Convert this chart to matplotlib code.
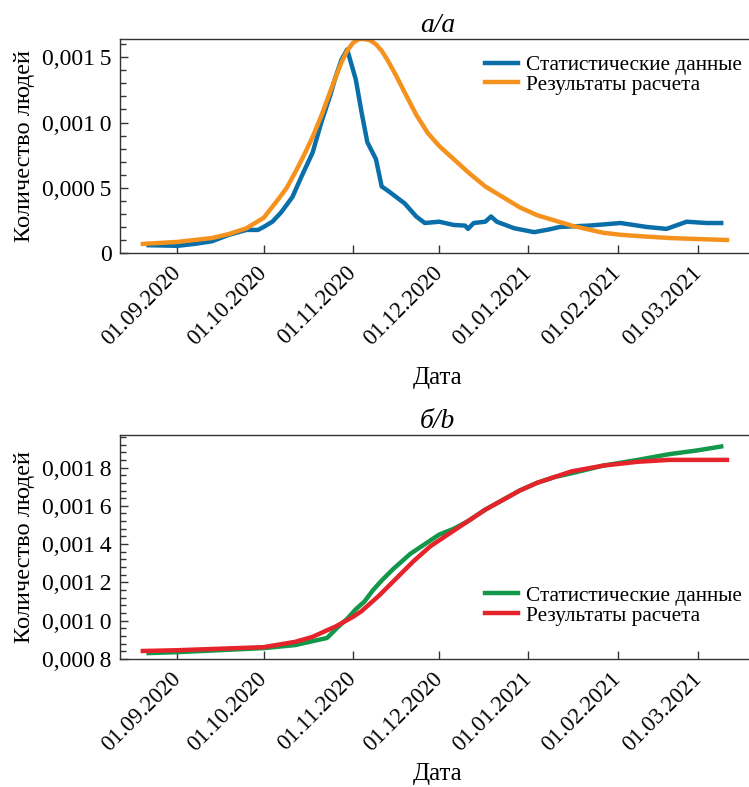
import matplotlib
matplotlib.use("Agg")
import matplotlib.pyplot as plt
import matplotlib.dates as mdates
from matplotlib.ticker import MultipleLocator, FuncFormatter
import pandas as pd

plt.rcParams["font.family"] = ["Liberation Serif", "DejaVu Serif"]
plt.rcParams["font.size"] = 16.5

# panel a: daily cases (statistics)
stat_a_dates = ["2020-08-22", "2020-09-01", "2020-09-07", "2020-09-13", "2020-09-19",
                "2020-09-25", "2020-09-29", "2020-10-01", "2020-10-04", "2020-10-07",
                "2020-10-11", "2020-10-14", "2020-10-18", "2020-10-21", "2020-10-24",
                "2020-10-26", "2020-10-28", "2020-10-30", "2020-11-02", "2020-11-04",
                "2020-11-06", "2020-11-09", "2020-11-11", "2020-11-13", "2020-11-16",
                "2020-11-19", "2020-11-23", "2020-11-26", "2020-12-01", "2020-12-06",
                "2020-12-10", "2020-12-11", "2020-12-13", "2020-12-17", "2020-12-19",
                "2020-12-21", "2020-12-27", "2021-01-03", "2021-01-08", "2021-01-12",
                "2021-01-22", "2021-02-02", "2021-02-11", "2021-02-18", "2021-02-25",
                "2021-03-04", "2021-03-09"]
stat_a_vals = [0.00006, 0.000055, 0.00007, 0.00009, 0.00014,
               0.000177, 0.000177, 0.0002, 0.00024, 0.00031,
               0.00043, 0.00058, 0.00077, 0.001, 0.0012,
               0.00135, 0.00148, 0.00156, 0.00133, 0.00108,
               0.00085, 0.00072, 0.00051, 0.00048, 0.00043,
               0.00038, 0.00028, 0.00023, 0.00024, 0.000215,
               0.00021, 0.000185, 0.00023, 0.00024, 0.00028,
               0.00024, 0.00019, 0.00016, 0.00018, 0.0002,
               0.00021, 0.00023, 0.0002, 0.000185, 0.00024,
               0.00023, 0.00023]

# panel a: model
model_a_dates = ["2020-08-20", "2020-09-01", "2020-09-07", "2020-09-13", "2020-09-19",
                 "2020-09-25", "2020-10-01", "2020-10-06", "2020-10-09", "2020-10-12",
                 "2020-10-15", "2020-10-18", "2020-10-21", "2020-10-23", "2020-10-25",
                 "2020-10-28", "2020-10-30", "2020-11-01", "2020-11-03", "2020-11-05",
                 "2020-11-07", "2020-11-09", "2020-11-11", "2020-11-13", "2020-11-16",
                 "2020-11-19", "2020-11-23", "2020-11-27", "2020-12-01", "2020-12-06",
                 "2020-12-11", "2020-12-17", "2020-12-23", "2020-12-29", "2021-01-04",
                 "2021-01-10", "2021-01-16", "2021-01-22", "2021-01-27", "2021-02-02",
                 "2021-02-08", "2021-02-19", "2021-03-01", "2021-03-11"]
model_a_vals = [0.00007, 0.000085, 0.0001, 0.000115, 0.000146,
                0.00019, 0.00027, 0.00041, 0.0005, 0.00062,
                0.00075, 0.00089, 0.00105, 0.00117, 0.00129,
                0.00146, 0.00155, 0.00161, 0.00164, 0.00164,
                0.00163, 0.0016, 0.00155, 0.00148, 0.00136,
                0.00123, 0.00106, 0.00092, 0.00082, 0.00072,
                0.00062, 0.00051, 0.00043, 0.00035, 0.00029,
                0.00025, 0.00021, 0.00018, 0.000155, 0.00014,
                0.00013, 0.000115, 0.000107, 0.0001]

# panel b: cumulative (statistics)
stat_b_dates = ["2020-08-22", "2020-09-01", "2020-10-01", "2020-10-12", "2020-10-17",
                "2020-10-23", "2020-10-27", "2020-10-30", "2020-11-02", "2020-11-05",
                "2020-11-08", "2020-11-11", "2020-11-15", "2020-11-18", "2020-11-21",
                "2020-11-25", "2020-12-01", "2020-12-06", "2020-12-11", "2020-12-17",
                "2020-12-23", "2020-12-29", "2021-01-04", "2021-01-10", "2021-01-16",
                "2021-01-27", "2021-02-08", "2021-02-19", "2021-03-01", "2021-03-09"]
stat_b_vals = [0.000831, 0.000836, 0.000857, 0.000873, 0.00089,
               0.00091, 0.00097, 0.00101, 0.00106, 0.0011,
               0.00116, 0.00121, 0.00127, 0.00131, 0.00135,
               0.00139, 0.00145, 0.00148, 0.00152, 0.00158,
               0.00163, 0.00168, 0.00172, 0.00175, 0.00177,
               0.00181, 0.00184, 0.00187, 0.00189, 0.00191]

# panel b: model
model_b_dates = ["2020-08-20", "2020-09-01", "2020-10-01", "2020-10-12", "2020-10-18",
                 "2020-10-23", "2020-10-26", "2020-10-29", "2020-11-01", "2020-11-04",
                 "2020-11-07", "2020-11-10", "2020-11-13", "2020-11-16", "2020-11-19",
                 "2020-11-22", "2020-11-25", "2020-11-28", "2020-12-01", "2020-12-06",
                 "2020-12-11", "2020-12-17", "2020-12-23", "2020-12-29", "2021-01-04",
                 "2021-01-10", "2021-01-16", "2021-01-27", "2021-02-08", "2021-02-19",
                 "2021-03-11"]
model_b_vals = [0.000842, 0.000846, 0.000862, 0.00089, 0.000916,
                0.00095, 0.00097, 0.000995, 0.00102, 0.00105,
                0.00109, 0.00113, 0.001175, 0.00122, 0.001265,
                0.00131, 0.00135, 0.00139, 0.00142, 0.00147,
                0.00152, 0.00158, 0.00163, 0.00168, 0.00172,
                0.00175, 0.00178, 0.00181, 0.00183, 0.00184,
                0.00184]

labels = ["Статистические данные", "Результаты расчета"]


def fmt(v, pos):
    if abs(v) < 1e-9:
        return "0"
    s = f"{v:.4f}".replace(".", ",")
    return s[:-1] + "\u2009" + s[-1]


fig = plt.figure(figsize=(7.49, 7.87), dpi=100)
ax1 = fig.add_axes([0.160, 0.6785, 0.849, 0.2719])
ax2 = fig.add_axes([0.160, 0.1626, 0.849, 0.2847])

ax1.plot(pd.to_datetime(stat_a_dates), stat_a_vals, color="#0a6fa8", lw=3.2, label=labels[0])
ax1.plot(pd.to_datetime(model_a_dates), model_a_vals, color="#f5921e", lw=3.2, label=labels[1])
ax2.plot(pd.to_datetime(stat_b_dates), stat_b_vals, color="#13974a", lw=3.2, label=labels[0])
ax2.plot(pd.to_datetime(model_b_dates), model_b_vals, color="#e4232b", lw=3.2, label=labels[1])

ax1.set_ylim(0, 0.00164)
ax1.yaxis.set_major_locator(MultipleLocator(0.0005))
ax1.yaxis.set_minor_locator(MultipleLocator(0.0001))
ax2.set_ylim(0.0008, 0.00197)
ax2.yaxis.set_major_locator(MultipleLocator(0.0002))
ax2.yaxis.set_minor_locator(MultipleLocator(0.00004))

for ax, title, leg_y, xl_y in [(ax1, "а/a", 0.925, -0.584), (ax2, "б/b", 0.327, -0.515)]:
    ax.set_xlim(pd.Timestamp("2020-08-12"), pd.Timestamp("2021-03-21"))
    ax.xaxis.set_major_locator(mdates.MonthLocator(bymonth=[9, 10, 11, 12, 1, 2, 3]))
    ax.xaxis.set_major_formatter(mdates.DateFormatter("%d.%m.%Y"))
    ax.yaxis.set_major_formatter(FuncFormatter(fmt))
    ax.spines["right"].set_visible(False)
    for sp in ["left", "top", "bottom"]:
        ax.spines[sp].set_color("#333333")
        ax.spines[sp].set_linewidth(1.0)
    ax.tick_params(which="major", direction="in", length=6, width=1.0, color="#333333", pad=6)
    ax.tick_params(which="minor", direction="in", length=4, width=1.0, color="#333333")
    ax.tick_params(axis="y", labelsize=17)
    ax.tick_params(axis="x", which="minor", length=0)
    ax.tick_params(axis="x", pad=12)
    plt.setp(ax.get_xticklabels(), rotation=45, ha="right", va="center",
             rotation_mode="anchor")
    ax.set_title(title, fontstyle="italic", pad=5)
    ax.set_ylabel("Количество людей", fontsize=17.6, labelpad=5)
    ax.set_xlabel("Дата", fontsize=18, va="center")
    ax.xaxis.set_label_coords(0.5, xl_y)
    ax.legend(loc="upper left", bbox_to_anchor=(0.574, leg_y), frameon=False,
              fontsize=15.3, borderpad=0, borderaxespad=0, handlelength=1.55,
              handletextpad=0.38, labelspacing=0.0)

fig.savefig("out.png", dpi=100)
